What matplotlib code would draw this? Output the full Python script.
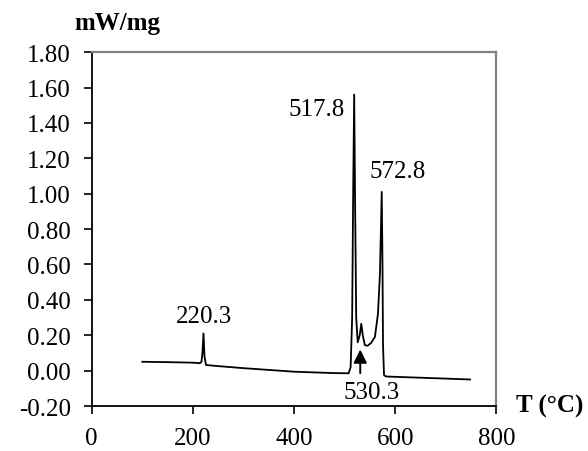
import numpy as np
import matplotlib.pyplot as plt

# DSC curve
temp = [100, 150, 200, 214, 217, 219, 221, 223, 226, 240, 300, 400, 480, 508, 512, 515,
        517, 519, 521, 523, 526, 530, 533, 536, 540, 545, 552, 560, 566, 570, 573.5,
        575, 576, 578, 582, 600, 650, 700, 748]
heat = [0.05, 0.048, 0.045, 0.042, 0.05, 0.1, 0.21, 0.08, 0.032, 0.028, 0.014, -0.006, -0.014,
        -0.015, 0.02, 0.3, 1.0, 1.56, 0.9, 0.3, 0.16, 0.2, 0.265, 0.2, 0.145, 0.14, 0.155,
        0.19, 0.32, 0.55, 1.01, 0.6, 0.15, -0.025, -0.033, -0.035, -0.04, -0.045, -0.05]

peak_labels = ["220.3", "517.8", "572.8", "530.3"]

plt.rcParams['font.family'] = 'Liberation Serif'
plt.rcParams['font.size'] = 18

fig = plt.figure(figsize=(5.88, 4.52), dpi=100)
ax = fig.add_axes([0.156, 0.0995, 0.688, 0.783])

ax.plot(temp, heat, color='black', lw=1.3)

ax.set_xlim(0, 800)
ax.set_ylim(-0.2, 1.8)
ax.set_xticks(np.arange(0, 801, 200))
ax.set_yticks(np.arange(-0.2, 1.81, 0.2))
ax.set_yticklabels(["%.2f" % v for v in np.arange(-0.2, 1.81, 0.2)])
ax.tick_params(direction='out', length=6, width=1.2, colors='black', labelsize=18)
ax.tick_params(axis='y', pad=9)
ax.tick_params(axis='x', pad=9)

ax.spines['left'].set_linewidth(1.3)
ax.spines['bottom'].set_linewidth(1.3)
ax.spines['top'].set_color('gray')
ax.spines['right'].set_color('gray')
ax.spines['top'].set_linewidth(1.6)
ax.spines['right'].set_linewidth(1.6)

# peak labels
ax.text(222, 0.31, peak_labels[0], ha='center', va='center', fontsize=18)
ax.text(501, 1.48, peak_labels[1], ha='right', va='center', fontsize=18)
ax.text(604, 1.13, peak_labels[2], ha='center', va='center', fontsize=18)
ax.text(554, -0.12, peak_labels[3], ha='center', va='center', fontsize=18)
ax.annotate('', xy=(531, 0.135), xytext=(531, -0.03),
            arrowprops=dict(arrowstyle='-|>', color='black', lw=1.4, mutation_scale=20))

fig.text(0.20, 0.949, 'mW/mg', ha='center', va='center', fontsize=18, fontweight='bold')
fig.text(0.935, 0.10, 'T (°C)', ha='center', va='center', fontsize=18, fontweight='bold')

fig.savefig('out.png', dpi=100)
